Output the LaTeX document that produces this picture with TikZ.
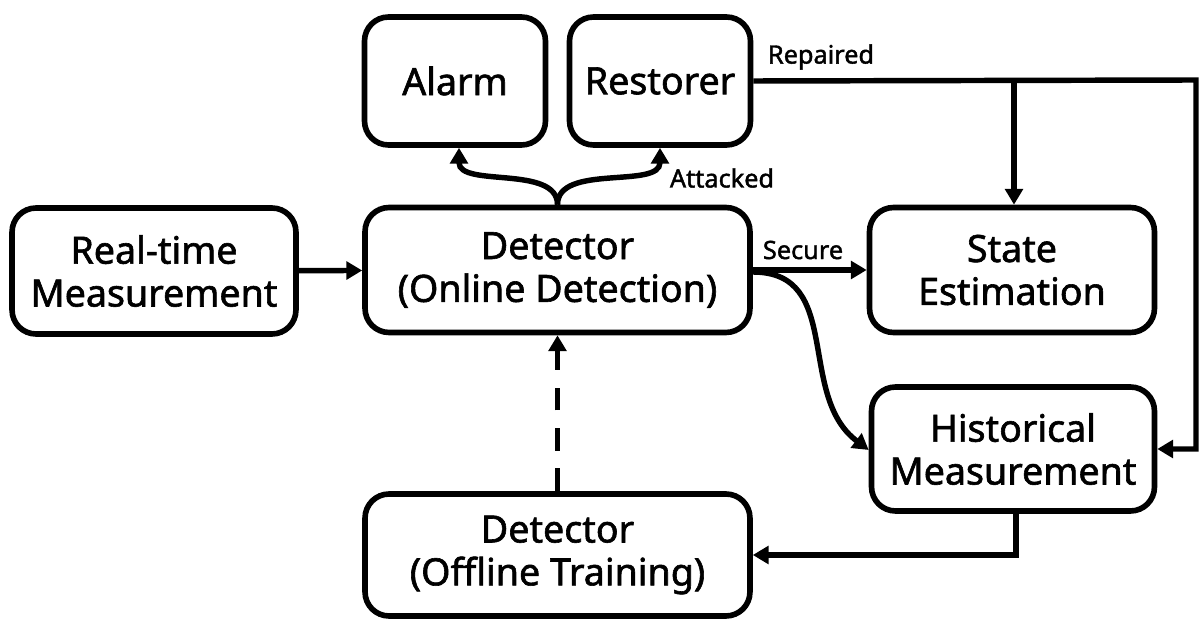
\documentclass[tikz,border=0pt]{standalone}
\usepackage{fontspec}
\setmainfont{Noto Sans}[FakeBold=1.6]
\usetikzlibrary{arrows.meta,calc}
\begin{document}
\begin{tikzpicture}[x=0.02cm,y=-0.02cm,
  box/.style={draw,line width=3.2pt,rounded corners=0.48cm,align=center,inner sep=0pt,
    font=\fontsize{21.4}{24.4}\selectfont},
  arr/.style={line width=3.1pt,-{Triangle[length=9pt,width=10pt]}},
  lbl/.style={font=\fontsize{14.4}{16}\selectfont,inner sep=0pt}]
\useasboundingbox (0,0) rectangle (1201,621);
% boxes
\node[box,minimum width=5.68cm,minimum height=2.52cm] (rt) at (154,271) {Real-time\\Measurement};
\node[box,minimum width=7.7cm,minimum height=2.5cm] (on) at (557.5,270) {Detector\\(Online Detection)};
\node[box,minimum width=3.62cm,minimum height=2.56cm] (alarm) at (455,81) {Alarm};
\node[box,minimum width=3.62cm,minimum height=2.56cm] (rest) at (660,81) {Restorer};
\node[box,minimum width=5.7cm,minimum height=2.5cm] (state) at (1012,270) {State\\Estimation};
\node[box,minimum width=5.66cm,minimum height=2.48cm] (hist) at (1013,449) {Historical\\Measurement};
\node[box,minimum width=7.7cm,minimum height=2.44cm] (off) at (557.5,555) {Detector\\(Offline Training)};
% labels
\node[lbl] (lattack) at (722,178) {Attacked};
\node[lbl] (lrep) at (821,57) {Repaired};
\node[lbl] (lsec) at (803,250) {Secure};
% routing points
\coordinate (corner) at (1196,80);
\coordinate (stin) at ($(state.north)+(2,0)$);
\coordinate (altip) at ($(alarm.south)+(4,0)$);
\coordinate (hsrc) at ($(hist.south)+(3,0)$);
% connectors
\draw[arr] (rt) -- (on);
\draw[arr] (on.north) to[out=90,in=-90,looseness=0.9] (altip);
\draw[arr] (on.north) to[out=90,in=-90,looseness=0.9] (rest.south);
\draw[arr] (rest.east) -- (corner) |- (hist.east);
\draw[arr] (stin |- rest.east) -- (stin);
\draw[arr] (on.east) -- (state.west);
\draw[arr] ($(on.east)+(0,2)$) to[out=0,in=143,looseness=1.1] ($(hist.west)+(0,1)$);
\draw[arr,dash pattern=on 13pt off 10pt] (off.north) -- (on.south);
\draw[arr] (hsrc) |- (off.east);
\end{tikzpicture}
\end{document}
